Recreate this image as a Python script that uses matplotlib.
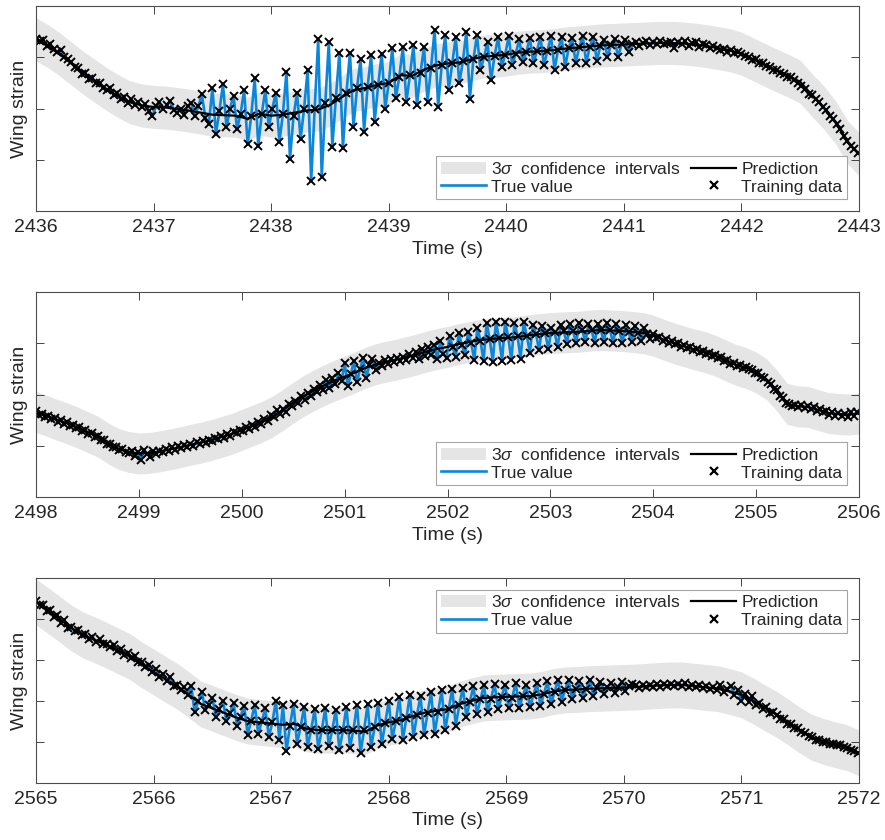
import numpy as np
import matplotlib
matplotlib.use('Agg')
from matplotlib import pyplot as plt
from matplotlib.patches import Patch
from matplotlib.lines import Line2D

plt.rcParams['font.family'] = ['Liberation Sans', 'DejaVu Sans']
plt.rcParams['mathtext.fontset'] = 'custom'
plt.rcParams['mathtext.rm'] = 'Liberation Sans'
plt.rcParams['mathtext.it'] = 'Liberation Sans:italic'

###### data ######

# sampling steps of the measured strain and of the GP prediction (s)
DT_TRUE = 0.03
DT_PRED = 0.1

# segment 1: 2436 - 2443 s
seg1_t0 = 2436
seg1_true = [
    336, 331, 333, 323, 326, 317, 310, 314, 300, 296,
    290, 281, 279, 268, 270, 258, 260, 249, 250, 240,
    236, 240, 226, 230, 218, 222, 210, 218, 207, 212,
    203, 208, 196, 186, 204, 212, 200, 206, 214, 198,
    192, 200, 188, 205, 211, 185, 204, 228, 182, 170,
    240, 151, 195, 248, 163, 200, 225, 160, 190, 236,
    130, 185, 259, 127, 190, 236, 163, 200, 231, 135,
    190, 272, 101, 185, 231, 140, 200, 276, 58, 200,
    335, 67, 210, 329, 125, 220, 309, 122, 230, 309,
    164, 240, 296, 155, 242, 304, 174, 246, 307, 200,
    250, 318, 220, 262, 320, 213, 265, 324, 206, 270,
    320, 213, 280, 354, 203, 284, 343, 236, 288, 340,
    249, 292, 350, 219, 296, 343, 275, 300, 330, 255,
    303, 339, 281, 305, 341, 285, 307, 335, 290, 310,
    338, 288, 312, 340, 285, 313, 341, 276, 315, 339,
    281, 318, 337, 289, 320, 341, 289, 321, 340, 293,
    323, 333, 301, 324, 336, 301, 325, 334, 310, 326,
    330, 322, 327, 331, 324, 329, 326, 332, 325, 328,
    330, 318, 329, 326, 331, 322, 327, 330, 321, 325,
    324, 318, 322, 319, 314, 317, 311, 315, 308, 310,
    306, 302, 300, 294, 297, 289, 288, 283, 281, 276,
    275, 270, 268, 262, 261, 255, 250, 244, 238, 228,
    227, 218, 213, 203, 197, 186, 180, 170, 161, 147,
    137, 127, 121, 113,
]
seg1_pred = [
    335, 322, 306, 288, 270, 254, 238, 224, 212, 206,
    203, 202, 199, 196, 192, 188, 187, 186, 180, 190,
    186, 188, 192, 196, 198, 207, 222, 236, 240, 246,
    250, 265, 264, 276, 284, 288, 290, 296, 301, 303,
    305, 309, 311, 312, 314, 317, 319, 321, 323, 324,
    325, 326, 327, 328, 328, 327, 325, 322, 318, 314,
    307, 296, 285, 274, 264, 252, 226, 202, 173, 135,
    111,
]

# segment 2: 2498 - 2506 s
seg2_t0 = 2498
seg2_true = [
    168, 161, 163, 156, 159, 152, 154, 147, 150, 143,
    146, 139, 141, 134, 136, 129, 130, 123, 125, 118,
    119, 112, 111, 104, 103, 97, 98, 92, 93, 88,
    86, 90, 80, 88, 72, 92, 84, 78, 89, 84,
    90, 87, 93, 89, 97, 92, 100, 96, 101, 98,
    104, 100, 108, 103, 110, 106, 112, 109, 116, 113,
    119, 115, 123, 120, 127, 124, 131, 128, 137, 133,
    141, 137, 146, 143, 152, 149, 160, 156, 170, 162,
    172, 166, 182, 177, 188, 183, 197, 190, 203, 198,
    210, 204, 218, 209, 228, 212, 232, 220, 242, 226,
    262, 216, 240, 266, 224, 250, 272, 232, 258, 270,
    248, 262, 256, 268, 260, 270, 263, 272, 266, 274,
    268, 280, 272, 284, 270, 288, 276, 292, 278, 296,
    270, 305, 280, 271, 315, 292, 274, 320, 296, 278,
    322, 300, 268, 330, 305, 265, 340, 308, 264, 342,
    310, 266, 342, 312, 267, 340, 314, 270, 342, 315,
    282, 336, 318, 286, 334, 320, 288, 330, 322, 292,
    336, 324, 298, 338, 324, 300, 340, 325, 302, 338,
    326, 300, 338, 326, 302, 340, 325, 300, 338, 324,
    300, 336, 322, 302, 334, 320, 305, 330, 318, 308,
    318, 311, 313, 305, 309, 301, 305, 298, 300, 293,
    296, 290, 292, 286, 289, 283, 285, 279, 282, 276,
    278, 271, 273, 266, 268, 260, 262, 256, 258, 252,
    254, 249, 248, 242, 243, 235, 233, 224, 221, 211,
    209, 198, 194, 183, 182, 177, 180, 175, 179, 174,
    178, 172, 175, 168, 171, 165, 168, 161, 166, 159,
    164, 158, 163, 157, 165, 159, 166,
]
seg2_pred = [
    166, 159, 151, 144, 136, 127, 118, 105, 94, 88,
    85, 86, 89, 93, 97, 102, 106, 111, 117, 123,
    131, 139, 147, 157, 170, 184, 197, 208, 218, 227,
    235, 243, 252, 259, 264, 268, 273, 278, 284, 289,
    293, 298, 302, 306, 308, 310, 311, 313, 316, 318,
    320, 321, 322, 323, 325, 326, 325, 324, 322, 320,
    315, 307, 300, 294, 288, 283, 276, 267, 258, 252,
    243, 230, 208, 182, 177, 176, 170, 164, 162, 161,
    163,
]

# segment 3: 2565 - 2572 s
seg3_t0 = 2565
seg3_true = [
    444, 435, 434, 420, 421, 404, 410, 391, 397, 379,
    380, 370, 372, 360, 364, 351, 357, 345, 350, 338,
    340, 331, 336, 322, 327, 312, 318, 304, 309, 294,
    294, 282, 288, 270, 278, 258, 266, 248, 258, 236,
    238, 228, 234, 214, 236, 172, 200, 222, 178, 190,
    208, 160, 180, 200, 150, 170, 195, 140, 162, 188,
    118, 152, 190, 120, 150, 182, 112, 148, 200, 105,
    190, 78, 140, 192, 96, 136, 185, 88, 130, 180,
    84, 128, 182, 90, 130, 178, 80, 128, 186, 86,
    130, 190, 74, 128, 192, 88, 136, 195, 94, 146,
    200, 108, 150, 210, 106, 158, 215, 112, 166, 212,
    118, 170, 222, 120, 174, 226, 128, 180, 230, 140,
    190, 232, 162, 198, 236, 168, 204, 238, 172, 206,
    242, 180, 210, 240, 182, 208, 244, 184, 212, 238,
    185, 214, 244, 188, 218, 248, 192, 222, 252, 198,
    228, 250, 204, 229, 248, 208, 230, 252, 212, 232,
    246, 218, 233, 244, 220, 234, 246, 224, 236, 242,
    238, 231, 239, 233, 240, 234, 241, 235, 242, 236,
    242, 236, 241, 237, 243, 235, 240, 234, 239, 232,
    236, 230, 234, 226, 238, 222, 230, 236, 215, 226,
    200, 218, 198, 212, 190, 196, 180, 186, 170, 172,
    167, 157, 155, 144, 143, 134, 133, 124, 123, 114,
    112, 106, 105, 100, 100, 96, 96, 92, 92, 87,
    86, 81, 79, 73,
]
seg3_pred = [
    442, 421, 400, 378, 361, 349, 336, 322, 308, 288,
    271, 253, 236, 215, 193, 182, 171, 160, 151, 148,
    145, 142, 144, 132, 129, 129, 129, 128, 125, 140,
    148, 153, 163, 171, 176, 180, 192, 200, 207, 209,
    210, 211, 212, 216, 223, 227, 228, 230, 231, 232,
    233, 234, 236, 238, 239, 239, 236, 233, 230, 223,
    215, 200, 183, 167, 148, 128, 111, 101, 93, 86,
    73,
]

# 3-sigma half widths of the confidence band
seg_half_width = [42, 40, 56]

###### plot ######

BLUE = '#0b86db'
BAND = '#e5e5e5'
TEXT = '#262626'


def draw_segment(ax, t0, n_sec, true_vals, pred_vals, half_width, ymax, legend_loc):
    t_true = t0 + DT_TRUE * np.arange(len(true_vals))
    t_pred = t0 + DT_PRED * np.arange(len(pred_vals))
    pred = np.array(pred_vals, dtype=float)

    ax.fill_between(t_pred, pred - half_width, pred + half_width, color=BAND, lw=0)
    ax.plot(t_true, true_vals, color=BLUE, lw=1.9)
    ax.plot(t_pred, pred, color='k', lw=1.6)
    ax.plot(t_true, true_vals, 'x', color='k', ms=5.2, mew=1.4)

    ax.set_xlim(t0, t0 + n_sec)
    ax.set_ylim(0, ymax)
    ax.set_xticks(range(t0, t0 + n_sec + 1))
    ax.set_xticklabels([str(v) for v in range(t0, t0 + n_sec + 1)])
    ax.set_yticks(range(100, ymax, 100))
    ax.tick_params(direction='in', top=True, right=True, length=6, width=0.6,
                   labelleft=False, labelsize=14, colors=TEXT, pad=6)
    for s in ax.spines.values():
        s.set_color('#4d4d4d')
        s.set_linewidth(0.8)
    ax.set_xlabel('Time (s)', fontsize=14, color=TEXT, labelpad=3)
    ax.set_ylabel('Wing strain', fontsize=14, color=TEXT, labelpad=6)

    handles = [
        Patch(facecolor=BAND, edgecolor='none'),
        Line2D([], [], color=BLUE, lw=1.9),
        Line2D([], [], color='k', lw=1.6),
        Line2D([], [], color='k', marker='x', ls='none', ms=6, mew=1.6),
    ]
    labels = ['3$\\sigma$  confidence  intervals', 'True value', 'Prediction', 'Training data']
    leg = ax.legend(handles, labels, ncol=2, loc=legend_loc, fontsize=12.5,
                    frameon=True, fancybox=False, framealpha=1, edgecolor='#a6a6a6',
                    borderaxespad=0.7, borderpad=0.25, handlelength=2.6,
                    handletextpad=0.3, columnspacing=0.6, labelspacing=0.15)
    leg.get_frame().set_linewidth(0.8)
    for txt in leg.get_texts():
        txt.set_color(TEXT)


fig = plt.figure(figsize=(8.85, 8.4), dpi=100)
ax1 = fig.add_axes([0.0407, 0.7488, 0.930, 0.244])
ax2 = fig.add_axes([0.0407, 0.4083, 0.930, 0.244])
ax3 = fig.add_axes([0.0407, 0.0679, 0.930, 0.244])

draw_segment(ax1, seg1_t0, 7, seg1_true, seg1_pred, seg_half_width[0], 400, 'lower right')
draw_segment(ax2, seg2_t0, 8, seg2_true, seg2_pred, seg_half_width[1], 400, 'lower right')
draw_segment(ax3, seg3_t0, 7, seg3_true, seg3_pred, seg_half_width[2], 500, 'upper right')

fig.savefig('out.png', dpi=100)
